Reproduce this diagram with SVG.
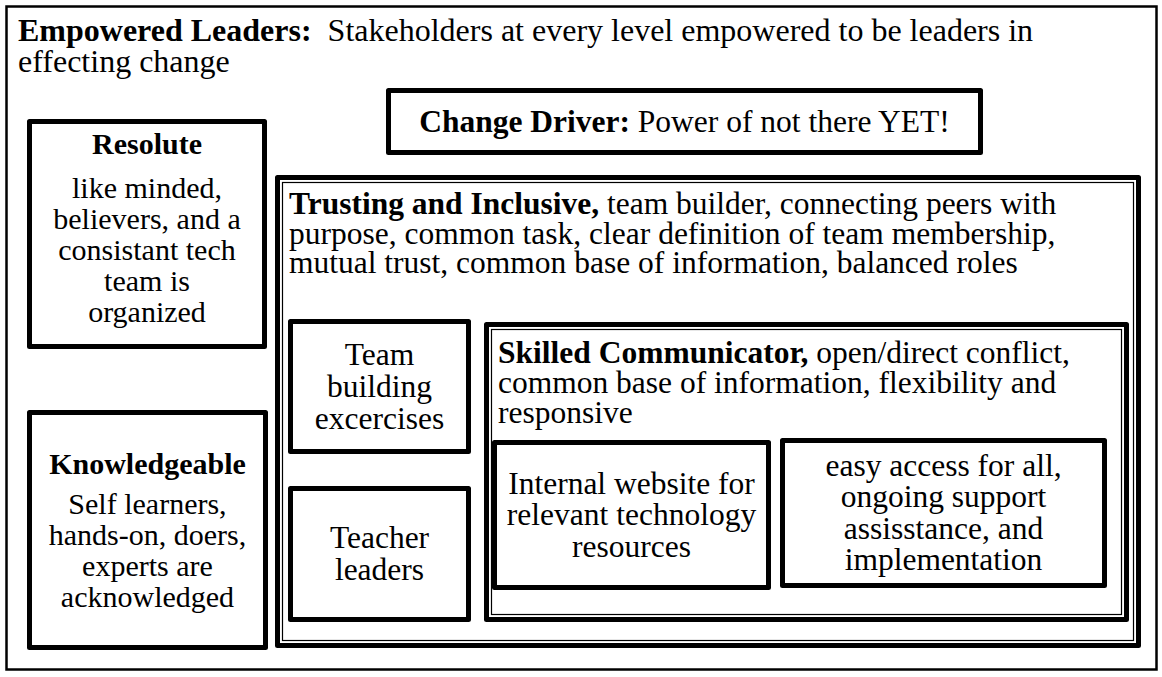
<svg xmlns="http://www.w3.org/2000/svg" width="1162" height="677" viewBox="0 0 1162 677">
<style>
.t{font-family:"Liberation Serif","Times New Roman",serif;font-size:31.5px;fill:#000}
.s{font-size:30px}
.h{font-size:32px}
.b{font-weight:bold}
.m{text-anchor:middle}
.box{fill:#fff;stroke:#000;stroke-width:5;stroke-linejoin:round}
.thin{fill:none;stroke:#000;stroke-width:1.2}
.outer{fill:#fff;stroke:#000;stroke-width:2.5}
</style>
<rect width="1162" height="677" fill="#fff"/>
<g id="empowered-leaders">
<rect class="outer" x="6.5" y="6.5" width="1150" height="663"/>
<text class="t h" xml:space="preserve" x="18" y="41"><tspan class="b">Empowered Leaders:</tspan>  Stakeholders at every level empowered to be leaders in</text>
<text class="t h" x="18" y="72">effecting change</text>
</g>
<g id="change-driver">
<rect class="box" x="388.5" y="90.5" width="592" height="62"/>
<text class="t m" x="684.5" y="132"><tspan class="b">Change Driver:</tspan> Power of not there YET!</text>
</g>
<g id="resolute">
<rect class="box" x="29.5" y="121.5" width="235" height="225"/>
<text class="t s m b" x="147" y="154">Resolute</text>
<text class="t s m" x="147" y="198">like minded,</text>
<text class="t s m" x="147" y="229">believers, and a</text>
<text class="t s m" x="147" y="260">consistant tech</text>
<text class="t s m" x="147" y="291">team is</text>
<text class="t s m" x="147" y="322">organized</text>
</g>
<g id="knowledgeable">
<rect class="box" x="29.5" y="412.5" width="236" height="235"/>
<text class="t s m b" x="147.5" y="474">Knowledgeable</text>
<text class="t s m" x="147.5" y="514">Self learners,</text>
<text class="t s m" x="147.5" y="545">hands-on, doers,</text>
<text class="t s m" x="147.5" y="576">experts are</text>
<text class="t s m" x="147.5" y="607">acknowledged</text>
</g>
<g id="trusting-inclusive">
<rect class="box" x="277.5" y="177.5" width="861" height="468"/>
<rect class="thin" x="282.5" y="182.5" width="851" height="458"/>
<text class="t" x="289" y="214"><tspan class="b">Trusting and Inclusive,</tspan> team builder, connecting peers with</text>
<text class="t" x="289" y="243.5">purpose, common task, clear definition of team membership,</text>
<text class="t" x="289" y="273">mutual trust, common base of information, balanced roles</text>
</g>
<g id="team-building">
<rect class="box" x="290.5" y="321.5" width="178" height="130"/>
<text class="t m" x="379.5" y="364.5">Team</text>
<text class="t m" x="379.5" y="396.5">building</text>
<text class="t m" x="379.5" y="428.5">excercises</text>
</g>
<g id="teacher-leaders">
<rect class="box" x="290.5" y="488.5" width="178" height="131"/>
<text class="t m" x="379.5" y="548">Teacher</text>
<text class="t m" x="379.5" y="580">leaders</text>
</g>
<g id="skilled-communicator">
<rect class="box" x="486.5" y="324.5" width="640" height="295"/>
<rect class="thin" x="491.5" y="329.5" width="630" height="285"/>
<text class="t" x="498" y="363"><tspan class="b">Skilled Communicator,</tspan> open/direct conflict,</text>
<text class="t" x="498" y="393">common base of information, flexibility and</text>
<text class="t" x="498" y="423">responsive</text>
</g>
<g id="internal-website">
<rect class="box" x="494.5" y="442.5" width="274" height="145"/>
<text class="t m" x="631.5" y="493.5">Internal website for</text>
<text class="t m" x="631.5" y="525">relevant technology</text>
<text class="t m" x="631.5" y="556.5">resources</text>
</g>
<g id="easy-access">
<rect class="box" x="782.5" y="440.5" width="322" height="145"/>
<text class="t m" x="943.5" y="475.5">easy access for all,</text>
<text class="t m" x="943.5" y="507">ongoing support</text>
<text class="t m" x="943.5" y="538.5">assisstance, and</text>
<text class="t m" x="943.5" y="570">implementation</text>
</g>
<g id="connectors"></g>
</svg>
